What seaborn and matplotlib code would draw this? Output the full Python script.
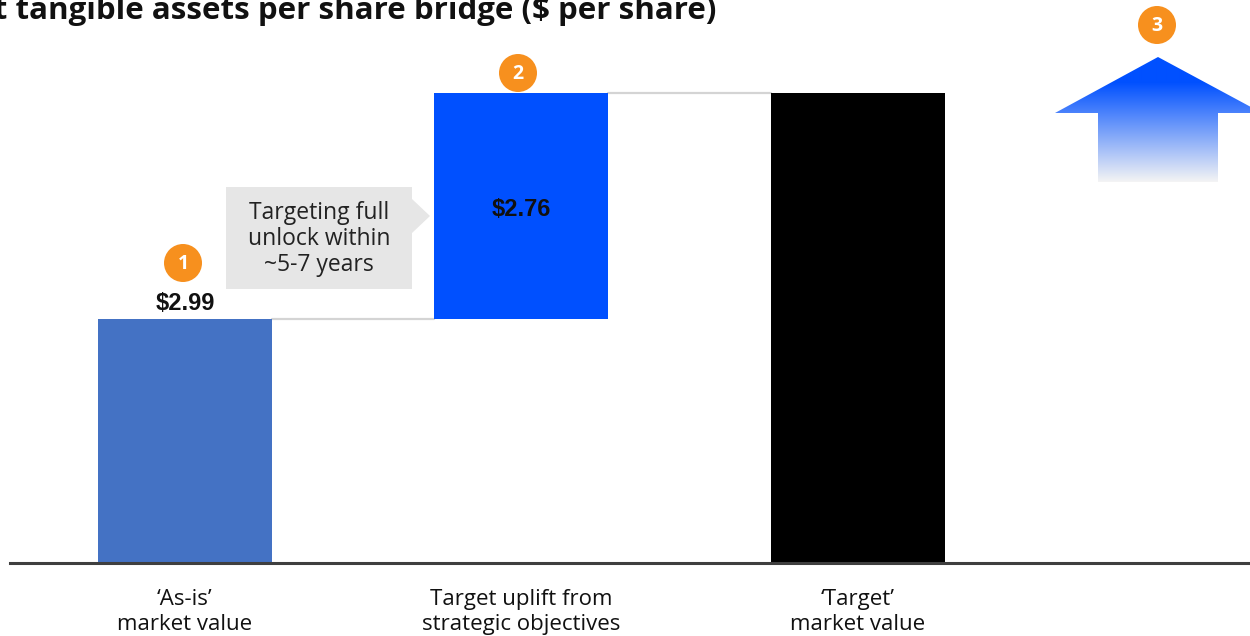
import numpy as np
import pandas as pd
import matplotlib
matplotlib.use("Agg")
import matplotlib.pyplot as plt
from matplotlib.patches import Polygon, Circle
import seaborn as sns

# ---- data ----
categories = ["\u2018As-is\u2019\nmarket value", "Target uplift from\nstrategic objectives", "\u2018Target\u2019\nmarket value"]
steps = [2.99, 2.76]
total = round(sum(steps), 2)
bottoms = [0.0, 2.99, 0.0]
tops = [2.99, total, total]
value_labels = ["$2.99", "$2.76", None]
bar_colors = ["#4472C4", "#0050FF", "#000000"]
title = "Net tangible assets per share bridge ($ per share)"
callout = "Targeting full\nunlock within\n~5-7 years"

sns.set_style("white")
plt.rcParams["font.family"] = ["Open Sans", "DejaVu Sans"]

W, H = 1250, 636
fig = plt.figure(figsize=(W / 100, H / 100), dpi=100)
y0 = 563
ax = fig.add_axes([10 / W, (H - y0) / H, 1240 / W, y0 / H])

df = pd.DataFrame({"cat": categories, "top": tops})
sns.barplot(data=df, x="cat", y="top", hue="cat", palette=bar_colors,
            width=0.517, legend=False, saturation=1, ax=ax, zorder=2)
for p, b, t in zip(ax.patches, bottoms, tops):
    p.set_y(b)
    p.set_height(t - b)
    p.set_linewidth(0)

ax.set_xlim(-0.520, 3.165)
ax.set_ylim(0, y0 / 81.7)
ax.set_xlabel("")
ax.set_ylabel("")
ax.set_yticks([])
for s in ["top", "left", "right"]:
    ax.spines[s].set_visible(False)
ax.spines["bottom"].set_color("#3f3f3f")
ax.spines["bottom"].set_linewidth(2.2)
ax.tick_params(axis="x", length=0, pad=19, labelsize=16, colors="#111111")
for lbl in ax.get_xticklabels():
    lbl.set_linespacing(1.2)

# connectors
hw = 0.517 / 2
ax.plot([0 + hw, 1 - hw], [tops[0], tops[0]], color="#d4d4d4", lw=1.6, zorder=1)
ax.plot([1 + hw, 2 - hw], [tops[1], tops[1]], color="#d4d4d4", lw=1.6, zorder=1)

# value labels
ax.text(0, tops[0] + 0.04, value_labels[0], ha="center", va="bottom", fontsize=17,
        fontweight="bold", family=["Liberation Sans", "DejaVu Sans"], color="#111111")
ax.text(1, tops[1] - 1.42, value_labels[1], ha="center", va="center", fontsize=17,
        fontweight="bold", family=["Liberation Sans", "DejaVu Sans"], color="#111111")

# overlay in pixel coordinates
ov = fig.add_axes([0, 0, 1, 1])
ov.axis("off")

# title (runs off the left edge, as in the reference)
ov.text(716, 11, title, ha="right", va="center", fontsize=22.5, fontweight="bold", color="#111111")

# callout
ov.add_patch(Polygon([(226, 187), (412, 187), (412, 199), (430, 216), (412, 233),
                      (412, 289), (226, 289)], closed=True, color="#e6e6e6", lw=0))
ov.text(319, 239, callout, ha="center", va="center", fontsize=16.5, color="#222222",
        linespacing=1.12)

# numbered circles
orange = "#F7901E"
for (cx, cy, n) in [(183, 263, "1"), (518, 73, "2"), (1157, 25, "3")]:
    ov.add_patch(Circle((cx, cy), 19, color=orange, lw=0))
    ov.text(cx, cy + 1, n, ha="center", va="center", fontsize=14, fontweight="bold", color="white")

# gradient arrow
arrow = Polygon([(1055, 113), (1158, 57), (1262, 113), (1218, 113), (1218, 182),
                 (1098, 182), (1098, 113)], closed=True, facecolor="none", edgecolor="none")
ov.add_patch(arrow)
ys = np.linspace(57, 182, 250)
frac = np.clip((ys - 82) / (182 - 82), 0, 1)
blue = np.array([0, 80, 255]) / 255
light = np.array([244, 244, 244]) / 255
grad = blue[None, :] * (1 - frac[:, None]) + light[None, :] * frac[:, None]
img = np.repeat(grad[:, None, :], 2, axis=1)
im = ov.imshow(img, extent=[1050, 1265, 182, 57], aspect="auto", interpolation="bilinear")
im.set_clip_path(arrow)

ov.set_xlim(0, W)
ov.set_ylim(H, 0)

fig.savefig("out.png", dpi=100)
